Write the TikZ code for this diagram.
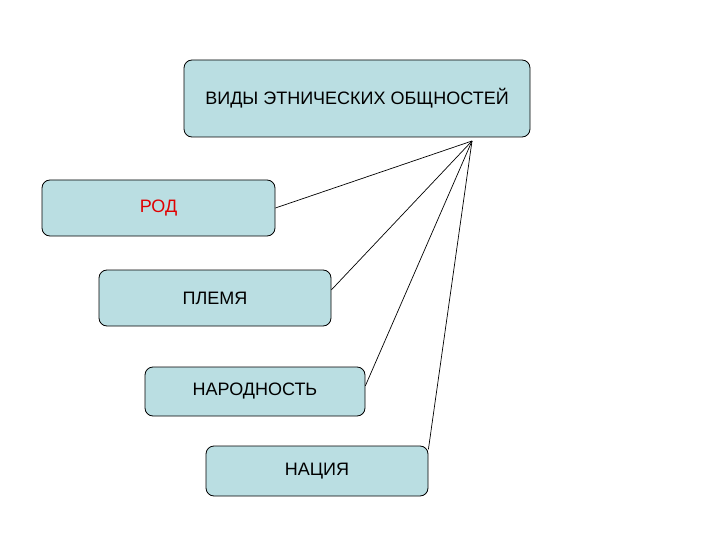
\documentclass[tikz,border=0pt]{standalone}
\usepackage{fontspec}
\setmainfont{Liberation Sans}
\definecolor{boxfill}{RGB}{186,222,226}
\definecolor{rodred}{RGB}{224,0,0}
\tikzset{
  vid/.style={draw=black, line width=0.8pt, fill=boxfill, rounded corners=8pt,
    inner sep=0pt, font=\fontsize{18}{20}\selectfont},
  link/.style={draw=black, line width=0.7pt}
}
\begin{document}
\begin{tikzpicture}[x=1pt,y=-1pt]
\useasboundingbox (0,0) rectangle (720,540);
\node[vid, minimum width=346pt, minimum height=77pt] (vidy) at (357,98.5) {ВИДЫ ЭТНИЧЕСКИХ ОБЩНОСТЕЙ};
\node[vid, minimum width=233pt, minimum height=56pt, text=rodred] (rod) at (158.5,208) {РОД};
\node[vid, minimum width=232pt, minimum height=56pt] (plemya) at (215,298) {ПЛЕМЯ};
\node[vid, minimum width=220pt, minimum height=49pt] (narodnost) at (255,391.5) {НАРОДНОСТЬ};
\node[vid, minimum width=222pt, minimum height=50pt] (naciya) at (317,471) {НАЦИЯ};
\coordinate (apex) at (472,141);
\draw[link] (apex)--(rod.east);
\draw[link] (apex)--(plemya.4);
\draw[link] (apex)--(narodnost.3.5);
\draw[link] (apex)--(naciya.11.5);
\end{tikzpicture}
\end{document}
